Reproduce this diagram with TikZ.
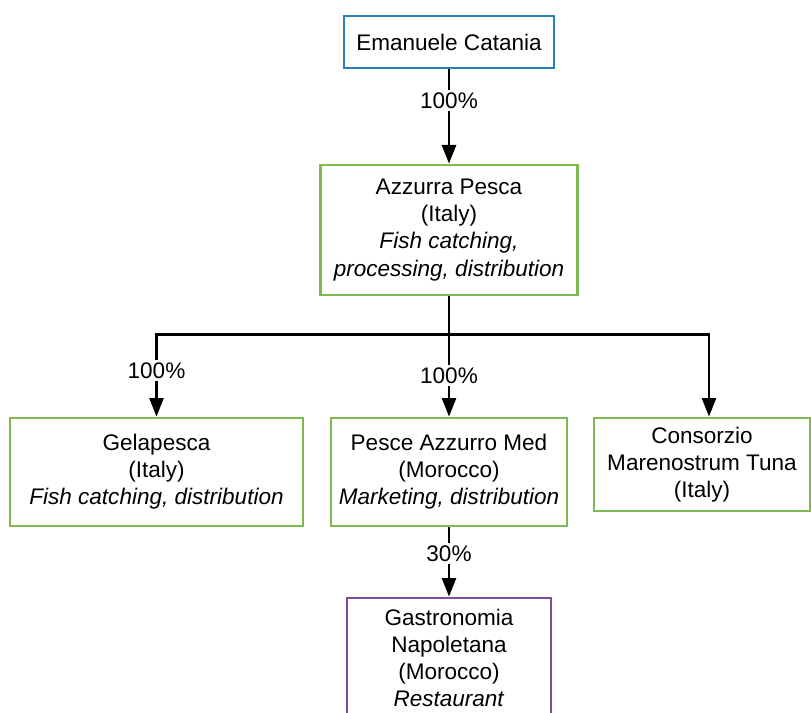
\documentclass[tikz,border=0pt]{standalone}
\usepackage{fontspec}
\setmainfont{Liberation Sans}
\usetikzlibrary{arrows.meta}

\definecolor{ownerblue}{RGB}{41,128,185}
\definecolor{firmgreen}{RGB}{127,186,80}
\definecolor{sharepurple}{RGB}{128,78,158}

\begin{document}
\begin{tikzpicture}[x=0.75pt, y=-0.75pt,
    box/.style={draw, line width=2pt, fill=white, align=center, inner sep=0pt,
        font=\fontsize{16.9}{20.3}\selectfont},
    link/.style={line width=2pt, -{Triangle[length=14pt,width=10.5pt]}},
    share/.style={fill=white, inner sep=2pt, font=\fontsize{16.9}{20.3}\selectfont}]
    \clip (0,0) rectangle (811,713);

    % Owner
    \node[box, draw=ownerblue, minimum width=157.5pt, minimum height=39pt] (catania) at (449,42) {Emanuele Catania};

    % Holding
    \node[box, draw=firmgreen, minimum width=192.75pt, minimum height=97.5pt] (azzurra) at (449,230)
        {Azzurra Pesca\\(Italy)\\\textit{Fish catching,}\\\textit{processing, distribution}};

    % Subsidiaries
    \node[box, draw=firmgreen, minimum width=219.75pt, minimum height=81pt] (gela) at (156.5,472)
        {Gelapesca\\(Italy)\\\textit{Fish catching, distribution}};
    \node[box, draw=firmgreen, minimum width=177pt, minimum height=81pt] (pesce) at (449,472)
        {Pesce Azzurro Med\\(Morocco)\\\textit{Marketing, distribution}};
    \node[box, draw=firmgreen, minimum width=162pt, minimum height=69.75pt] (consorzio) at (702,464.5)
        {Consorzio\\Marenostrum Tuna\\(Italy)};

    % Participation
    \node[box, draw=sharepurple, minimum width=153pt, minimum height=90pt] (gastro) at (449,658)
        {Gastronomia\\Napoletana\\(Morocco)\\\textit{Restaurant}};

    % Ownership links
    \draw[link] (catania.south) -- node[share, pos=0.33] {100\%} (azzurra.north);
    \draw[line width=2pt] (azzurra.south) -- ++(0,38) coordinate (split);
    \draw[link] (split) -| node[share, pos=0.72] {100\%} (gela.north);
    \draw[link] (split) -- node[share, pos=0.5] {100\%} (pesce.north);
    \draw[link] (split) -| ([xshift=5.25pt]consorzio.north);
    \draw[link] (pesce.south) -- node[share, pos=0.375] {30\%} (gastro.north);
\end{tikzpicture}
\end{document}
